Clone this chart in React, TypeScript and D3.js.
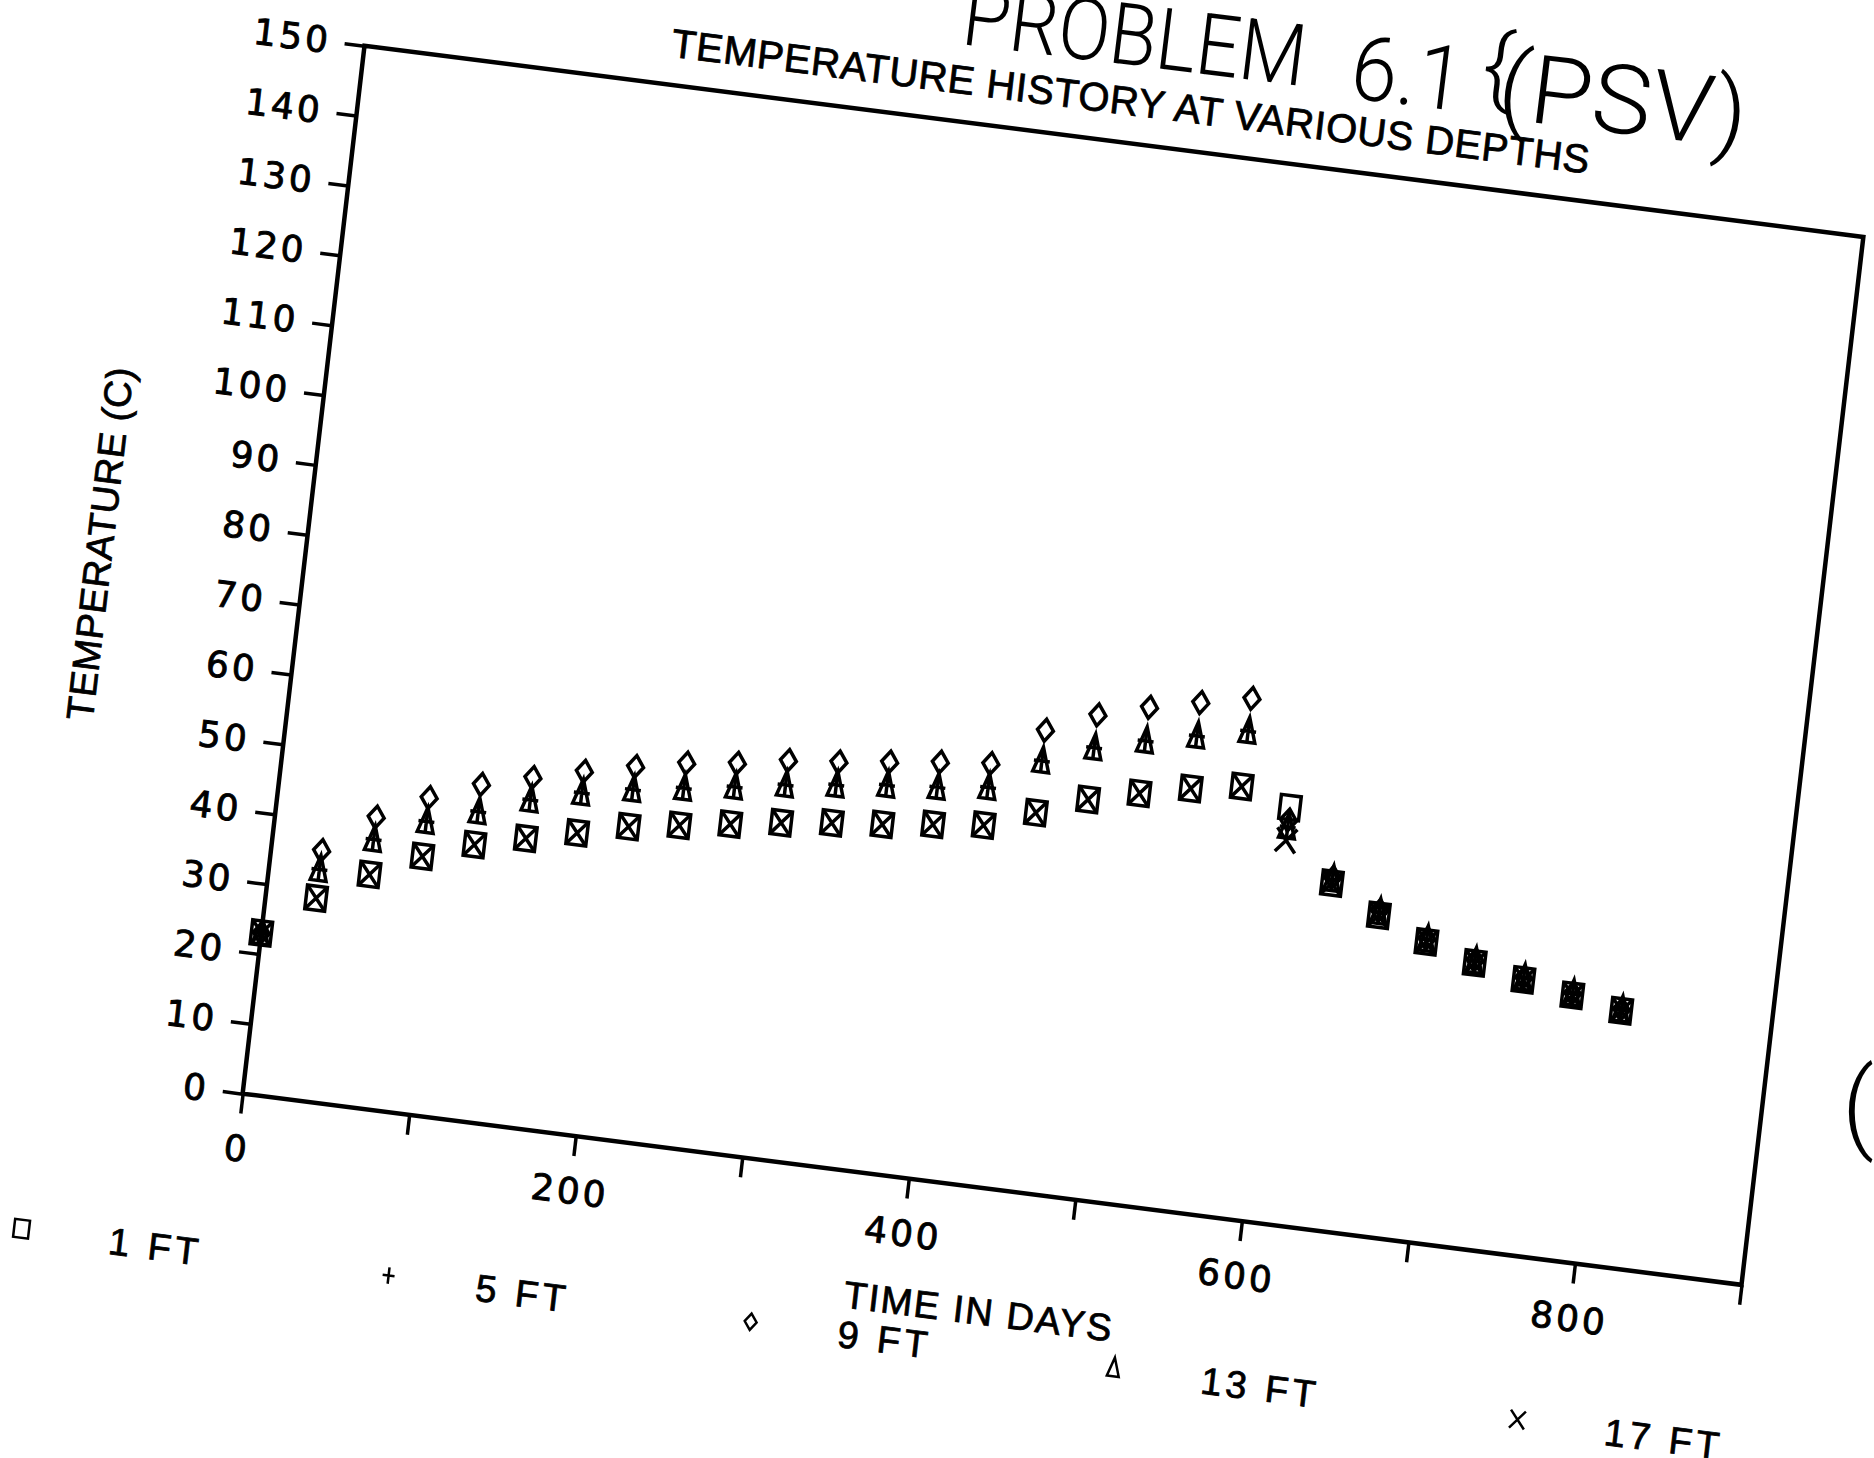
import React, { useEffect, useRef } from "react";
import * as d3 from "d3";

// sampling days (about one reading a month)
const days = [0, 30, 60, 90, 120, 150, 180, 210, 240, 270, 300, 330, 360, 390, 420,
  450, 480, 510, 540, 570, 600, 630, 660, 690, 720, 750, 780, 810];

const temp1ft = [23.0, 28.9, 33.2, 36.7, 39.3, 41.1, 42.8, 44.6, 45.7, 46.8, 47.9, 48.8, 49.5, 50.4,
  51.2, 53.9, 56.7, 58.5, 60.1, 61.3, 59.2, 49.3, 45.6, 42.7, 40.6, 39.1, 37.8, 36.5];
const temp5ft = [23.0, 33.0, 38.2, 41.7, 44.0, 46.6, 48.5, 49.9, 51.0, 52.1, 53.3, 54.2, 55.1, 55.7,
  56.6, 61.3, 64.1, 66.0, 67.6, 69.2, 56.4, 49.8, 46.0, 43.0, 40.8, 39.3, 38.0, 36.6];
const temp9ft = [23.0, 35.7, 41.4, 45.1, 47.9, 49.8, 51.6, 53.2, 54.6, 55.5, 56.8, 57.5, 58.4, 59.3,
  60.0, 65.7, 68.8, 70.8, 72.4, 73.9, 57.4, 50.1, 46.3, 43.2, 41.0, 39.4, 38.1, 36.7];
const temp13ft = [23.0, 33.0, 38.2, 41.7, 44.0, 46.6, 48.5, 49.9, 51.0, 52.1, 53.3, 54.2, 55.1, 55.7,
  56.6, 61.3, 64.1, 66.0, 67.6, 69.2, 56.4, 49.8, 46.0, 43.0, 40.8, 39.3, 38.0, 36.6];
const temp17ft = [23.0, 28.9, 33.2, 36.7, 39.3, 41.1, 42.8, 44.6, 45.7, 46.8, 47.9, 48.8, 49.5, 50.4,
  51.2, 53.9, 56.7, 58.5, 60.1, 61.3, 54.5, 49.3, 45.6, 42.7, 40.6, 39.1, 37.8, 36.5];

const depthNames = ["1 FT", "5 FT", "9 FT", "13 FT", "17 FT"];
const depthMarks = ["square", "plus", "diamond", "triangle", "cross"];

const yTicks = [0, 10, 20, 30, 40, 50, 60, 70, 80, 90, 100, 110, 120, 130, 140, 150];
const xTicks = [0, 100, 200, 300, 400, 500, 600, 700, 800, 900];
const xLabelled = [0, 200, 400, 600, 800];

// path for one marker, centred on 0,0
function markPath(kind: string, s: number) {
  if (kind === "square") return `M${-10 * s},${-12 * s}H${10 * s}V${12 * s}H${-10 * s}Z`;
  if (kind === "plus") return `M${-8 * s},0H${8 * s}M0,${-11 * s}V${11 * s}`;
  if (kind === "diamond") return `M0,${-11 * s}L${8 * s},0L0,${11 * s}L${-8 * s},0Z`;
  if (kind === "triangle") return `M0,${-14 * s}L${8 * s},${11 * s}H${-8 * s}Z`;
  return `M${-10 * s},${-12 * s}L${10 * s},${12 * s}M${10 * s},${-12 * s}L${-10 * s},${12 * s}`;
}

export default function App() {
  const ref = useRef<SVGSVGElement>(null);

  useEffect(() => {
    const svg = d3.select(ref.current);
    svg.selectAll("*").remove();

    const W = 1511, H = 1055;
    const x = d3.scaleLinear().domain([0, 900]).range([0, W]);
    const y = d3.scaleLinear().domain([0, 150]).range([H, 0]);

    svg.append("rect").attr("width", 1874).attr("height", 1458).attr("fill", "#fff");

    // the scanned page is skewed, so the whole plot sits in a tilted frame
    const g = svg.append("g")
      .attr("transform", "matrix(0.99196,0.12655,-0.11551,0.99331,364.5,45.7)");

    // frame
    g.append("path")
      .attr("d", `M0,${H}V0H${W}V${H}H0`)
      .attr("fill", "none")
      .attr("stroke", "#000")
      .attr("stroke-width", 4.5);

    const yAxis = g.append("g")
      .call(d3.axisLeft(y).tickValues(yTicks).tickSize(20).tickPadding(14).tickSizeOuter(0));
    const xAxis = g.append("g")
      .attr("transform", `translate(0,${H})`)
      .call(d3.axisBottom(x).tickValues(xTicks).tickSize(20).tickPadding(22).tickSizeOuter(0)
        .tickFormat((d) => (xLabelled.includes(+d) ? String(d) : "")));

    [yAxis, xAxis].forEach((a) => {
      a.select(".domain").remove();
      a.selectAll("line").attr("stroke", "#000").attr("stroke-width", 3.5);
      a.selectAll("text")
        .attr("fill", "#000")
        .attr("stroke", "#000")
        .attr("stroke-width", 0.9)
        .attr("font-family", "DejaVu Sans")
        .attr("font-size", 36)
        .attr("letter-spacing", 3);
    });

    const label = (sel: any, size: number) =>
      sel.attr("font-family", "Liberation Sans")
        .attr("font-size", size)
        .attr("fill", "#000")
        .attr("stroke", "#000")
        .attr("stroke-width", 0.8);

    // titles
    label(g.append("text")
      .attr("x", W / 2 + 12).attr("y", -28)
      .attr("text-anchor", "middle")
      .attr("textLength", 925), 40)
      .text("TEMPERATURE HISTORY AT VARIOUS DEPTHS");

    label(g.append("text")
      .attr("transform", `translate(-192,${H / 2}) rotate(-90)`)
      .attr("text-anchor", "middle")
      .attr("textLength", 355), 38)
      .text("TEMPERATURE (C)");

    label(g.append("text")
      .attr("x", W / 2).attr("y", H + 136)
      .attr("text-anchor", "middle")
      .attr("textLength", 270), 38)
      .text("TIME IN DAYS");

    // data markers
    const series = [temp1ft, temp5ft, temp9ft, temp13ft, temp17ft];
    series.forEach((vals, k) => {
      g.append("g")
        .selectAll("path")
        .data(vals)
        .join("path")
        .attr("transform", (v, i) => `translate(${x(days[i])},${y(v)})`)
        .attr("d", markPath(depthMarks[k], 1))
        .attr("fill", "none")
        .attr("stroke", "#000")
        .attr("stroke-width", 3.5);
    });

    // legend, staggered along the bottom
    const legX = [-204, 166, 531, 897, 1304];
    const leg = g.append("g").attr("transform", `translate(0,${H + 162})`);
    depthNames.forEach((name, k) => {
      leg.append("path")
        .attr("transform", `translate(${legX[k]},0)`)
        .attr("d", markPath(depthMarks[k], 0.75))
        .attr("fill", "none")
        .attr("stroke", "#000")
        .attr("stroke-width", 2.5);
      label(leg.append("text")
        .attr("x", legX[k] + 88).attr("y", 14)
        .attr("letter-spacing", 4), 38)
        .text(name);
    });

    // handwritten heading above the plot, cut off by the top of the page
    const head = svg.append("g").attr("transform", "translate(960,44) rotate(7)");
    const hand = (txt: string, at: number, len: number, size: number) =>
      head.append("text")
        .attr("x", at)
        .attr("font-family", "Roboto")
        .attr("font-weight", 300)
        .attr("font-size", size)
        .attr("lengthAdjust", "spacingAndGlyphs")
        .attr("textLength", len)
        .text(txt);
    hand("PROBLEM", 0, 345, 86);
    hand("6.1", 392, 112, 90).attr("y", 6);
    hand("{", 522, 30, 88).attr("y", -14);
    hand("(PSV)", 540, 250, 96).attr("y", 8);

    svg.append("text")
      .attr("x", 1842).attr("y", 1140)
      .attr("font-family", "Roboto")
      .attr("font-weight", 300)
      .attr("font-size", 100)
      .text("(");
  }, []);

  return (
    <svg ref={ref} width={1874} height={1458}
      style={{ position: "absolute", left: 0, top: 0 }} />
  );
}
